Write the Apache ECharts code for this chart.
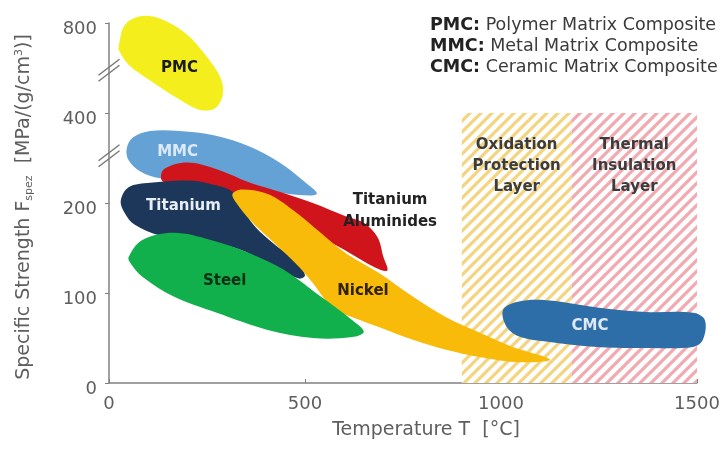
<!DOCTYPE html>
<html><head><meta charset="utf-8">
<script src="https://cdn.jsdelivr.net/npm/echarts@6/dist/echarts.min.js"></script>
<style>html,body{margin:0;padding:0;background:#fff}#c{width:725px;height:453px}</style>
</head><body><div id="c"></div>
<script>
// ---- axis ticks ----
const xTicks = [0, 500, 1000, 1500];
const yTickValues = [0, 100, 200, 400, 800];        // real values at the (broken) axis ticks
const yTickLabels = ['0', '100', '200', '400', '800'];
const yBreakValues = [305, 590];                     // where the "//" break marks sit

// ---- material regions: temperature [°C] and specific strength [MPa/(g/cm3)] outline points ----
const pmcT = [25, 40, 80, 130, 195, 245, 285, 290, 270, 230, 180, 105, 50, 25];
const pmcS = [700, 790, 830, 820, 755, 660, 555, 480, 420, 415, 460, 545, 615, 680];

const mmcT = [45, 60, 105, 180, 270, 360, 435, 495, 530, 460, 360, 230, 130, 80, 50];
const mmcS = [320, 345, 360, 360, 350, 325, 290, 250, 220, 220, 235, 250, 255, 270, 295];

const tialT = [140, 200, 275, 360, 435, 520, 605, 650, 685, 700, 710, 680, 600, 485, 385, 285, 170, 135];
const tialS = [275, 290, 275, 245, 225, 200, 185, 178, 162, 140, 125, 128, 148, 175, 195, 218, 240, 250];

const tiT = [30, 50, 105, 205, 270, 315, 335, 370, 425, 475, 500, 485, 435, 335, 230, 130, 65, 40];
const tiS = [205, 235, 245, 250, 240, 225, 198, 175, 153, 137, 120, 116, 126, 148, 159, 164, 176, 189];

const niT = [315, 340, 405, 470, 540, 605, 690, 775, 860, 945, 1030, 1125, 1050, 945, 860, 775, 690, 640, 570, 520, 485, 420, 360, 325];
const niS = [220, 230, 220, 192, 167, 144, 122, 96, 73, 56, 40, 26, 23, 29, 37, 48, 62, 70, 84, 111, 129, 156, 181, 200];

const steelT = [50, 85, 165, 260, 360, 445, 540, 620, 650, 620, 520, 405, 275, 165, 85, 55];
const steelS = [140, 159, 167, 159, 144, 126, 96, 70, 57, 51, 50, 59, 78, 96, 118, 133];

const cmcT = [1005, 1040, 1115, 1245, 1370, 1490, 1520, 1515, 1490, 1370, 1245, 1115, 1050, 1015];
const cmcS = [81, 90, 92, 84, 79, 78, 70, 48, 40, 39, 40, 46, 51, 62];

// ---- region labels (anchor in data units) ----
const regionNames = ['PMC', 'MMC', 'Titanium\nAluminides', 'Titanium', 'Nickel', 'Steel', 'CMC'];
const regionLabelT = [180, 175, 717, 190, 648, 295, 1227];
const regionLabelS = [600, 313, 191, 196, 102, 113, 63];

// ---- protection layer zones ----
const zoneNames = ['Oxidation\nProtection\nLayer', 'Thermal\nInsulation\nLayer'];
const zoneFrom = [900, 1180];
const zoneTo = [1180, 1500];
const zoneTop = [400, 400];
const zoneLabelS = [282, 282];

// ---- legend text ----
const legendKeys = ['PMC', 'MMC', 'CMC'];
const legendTexts = ['Polymer Matrix Composite', 'Metal Matrix Composite', 'Ceramic Matrix Composite'];

// piecewise-linear broken axis: each tick interval occupies 100 axis units
function ymap(v) {
  const n = yTickValues.length;
  for (let i = 1; i < n; i++) {
    if (v <= yTickValues[i] || i === n - 1) {
      const a = yTickValues[i - 1], b = yTickValues[i];
      return (i - 1) * 100 + (v - a) / (b - a) * 100;
    }
  }
}

const FONT = '"DejaVu Sans", "Liberation Sans", Arial, sans-serif';

function blob(idx, T, S, color, labelColor) {
  return {
    type: 'custom', clip: false, silent: true,
    data: T.map((t, i) => [t, ymap(S[i])]),
    renderItem(params, api) {
      if (params.dataIndex !== 0) return null;
      const pts = T.map((t, i) => api.coord([t, ymap(S[i])]));
      const c = api.coord([regionLabelT[idx], ymap(regionLabelS[idx])]);
      return {
        type: 'group', children: [
          { type: 'polygon', shape: { points: pts, smooth: 0.35 }, style: { fill: color } },
          { type: 'text', x: c[0], y: c[1], z2: 10,
            style: { text: regionNames[idx], fill: labelColor, font: 'bold 15px ' + FONT,
                     align: 'center', verticalAlign: 'middle', lineHeight: 22 } }
        ]
      };
    }
  };
}

function stripes(color) {
  const s = 11, cv = document.createElement('canvas');
  cv.width = s; cv.height = s;
  const g = cv.getContext('2d');
  g.fillStyle = '#ffffff'; g.fillRect(0, 0, s, s);
  g.strokeStyle = color; g.lineWidth = 3.2; g.lineCap = 'square';
  [[-s, s, s, -s], [0, s, s, 0], [0, 2 * s, 2 * s, 0]].forEach(l => {
    g.beginPath(); g.moveTo(l[0], l[1]); g.lineTo(l[2], l[3]); g.stroke();
  });
  return cv;
}
const zoneColors = [stripes('#f5d480'), stripes('#f2a9b0')];

const chart = echarts.init(document.getElementById('c'), null, { renderer: 'canvas' });

const series = [
  {
    type: 'custom', clip: false, silent: true,
    data: zoneFrom.map((f, i) => [f, zoneTo[i], ymap(zoneTop[i])]),
    encode: { x: [0, 1], y: 2 },
    renderItem(params, api) {
      const i = params.dataIndex;
      const p0 = api.coord([zoneFrom[i], ymap(zoneTop[i])]);
      const p1 = api.coord([zoneTo[i], 0]);
      const lc = api.coord([(zoneFrom[i] + zoneTo[i]) / 2, ymap(zoneLabelS[i])]);
      return {
        type: 'group', children: [
          { type: 'rect', shape: { x: p0[0], y: p0[1], width: p1[0] - p0[0], height: p1[1] - p0[1] },
            style: { fill: { image: zoneColors[i], repeat: 'repeat' } } },
          { type: 'text', x: lc[0], y: lc[1],
            style: { text: zoneNames[i], fill: '#3c3c3c', font: 'bold 15px ' + FONT,
                     align: 'center', verticalAlign: 'middle', lineHeight: 21 } }
        ]
      };
    }
  },
  blob(0, pmcT, pmcS, '#f4ee1c', '#1a1a1a'),
  blob(1, mmcT, mmcS, '#64a2d6', '#dceaf7'),
  blob(2, tialT, tialS, '#d0141c', '#222222'),
  blob(3, tiT, tiS, '#1c3759', '#e6edf5'),
  blob(4, niT, niS, '#f9bb0a', '#2e2200'),
  blob(5, steelT, steelS, '#12b04c', '#0c2e14'),
  blob(6, cmcT, cmcS, '#2d6ea8', '#dde9f4'),
  {
    type: 'custom', clip: false, silent: true,
    data: yBreakValues.map(v => [0, ymap(v)]),
    renderItem(params, api) {
      const c = api.coord([0, ymap(yBreakValues[params.dataIndex])]);
      const mk = o => ({ type: 'line', shape: { x1: c[0] - 10.5, y1: c[1] + 8 + o, x2: c[0] + 10.5, y2: c[1] - 8 + o },
                         style: { stroke: '#7a7a7a', lineWidth: 1.5 } });
      return { type: 'group', children: [mk(-3), mk(3)] };
    }
  }
];

const graphic = [
  { type: 'text', x: 24, y: 207, rotation: Math.PI / 2,
    style: { text: 'Specific Strength F{sub|spez}  [MPa/(g/cm{sup|3})]', fill: '#5e5e5e',
             font: '19px ' + FONT, align: 'center', verticalAlign: 'middle',
             rich: { sub: { font: '11px ' + FONT, fill: '#5e5e5e', verticalAlign: 'bottom', padding: [10, 0, 0, 0] },
                     sup: { font: '11px ' + FONT, fill: '#5e5e5e', verticalAlign: 'top', padding: [0, 0, 8, 0] } } } },
  { type: 'text', x: 426, y: 430,
    style: { text: 'Temperature T  [°C]', fill: '#5e5e5e', font: '19px ' + FONT, align: 'center', verticalAlign: 'middle' } }
].concat(legendKeys.map((k, i) => ({
  type: 'text', x: 430, y: 25 + i * 21,
  style: { text: '{b|' + k + ':} ' + legendTexts[i], fill: '#3a3a3a', font: '17.5px ' + FONT,
           verticalAlign: 'middle', rich: { b: { font: 'bold 17.5px ' + FONT, fill: '#222' } } }
})));

chart.setOption({
  animation: false,
  backgroundColor: '#ffffff',
  grid: { left: 109, right: 28, top: 23, bottom: 70, containLabel: false },
  xAxis: {
    type: 'value', min: xTicks[0], max: xTicks[xTicks.length - 1], interval: xTicks[1] - xTicks[0],
    axisLine: { lineStyle: { color: '#808080', width: 1.5 } },
    axisTick: { inside: true, length: 4, lineStyle: { color: '#808080' } },
    splitLine: { show: false },
    axisLabel: { color: '#5e5e5e', fontSize: 18, fontFamily: FONT, margin: 12,
                 formatter: v => String(v) }
  },
  yAxis: {
    type: 'value', min: 0, max: (yTickValues.length - 1) * 100, interval: 100,
    axisLine: { show: true, lineStyle: { color: '#808080', width: 1.5 } },
    axisTick: { show: true, length: 4, lineStyle: { color: '#808080' } },
    splitLine: { show: false },
    axisLabel: { color: '#5e5e5e', fontSize: 18, fontFamily: FONT, margin: 12,
                 verticalAlign: 'top', lineHeight: 13,
                 formatter: v => yTickLabels[Math.round(v / 100)] }
  },
  graphic,
  series
});
</script></body></html>
